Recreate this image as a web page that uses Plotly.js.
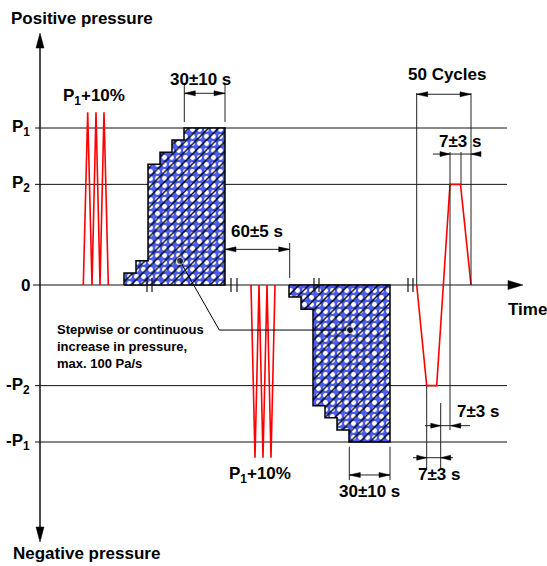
<!DOCTYPE html>
<html><head><meta charset="utf-8">
<script src="https://cdn.plot.ly/plotly-3.0.1.min.js"></script>
<style>html,body{margin:0;padding:0;background:#fff}#chart{width:547px;height:566px}</style>
</head><body><div id="chart"></div>
<script>
// ---- pressure levels (P1 = 1) ----
const levelNames = ['P<sub>1</sub>', 'P<sub>2</sub>', '0', '-P<sub>2</sub>', '-P<sub>1</sub>'];
const levelValues = [1, 0.641, 0, -0.641, -1];

// ---- test pulses P1+10% (time units, pressure) ----
const pulseUpT = [43.3, 47.7, 52, 56, 60, 64, 68.3];
const pulseUpP = [0, 1.1, 0, 1.1, 0, 1.1, 0];
const pulseDownT = [211, 215, 219, 223, 227, 231, 235];
const pulseDownP = [0, -1.1, 0, -1.1, 0, -1.1, 0];

// ---- stepwise increase ----
const stepUpT = [84, 96, 108, 120, 132, 144];
const stepUpP = [0.077, 0.154, 0.769, 0.846, 0.923, 1.0];
const holdUpEnd = 185;
const stepDownT = [249, 261, 273, 285, 297, 309];
const stepDownP = [-0.077, -0.154, -0.769, -0.846, -0.923, -1.0];
const holdDownEnd = 350;

// ---- one of the 50 cycles ----
const cycleT = [376.7, 386.7, 396.7, 410, 420.5, 431];
const cycleP = [0, -0.641, -0.641, 0.641, 0.641, 0];

// ---- axis break marks ----
const breakT = [107, 112, 191, 197, 274, 279, 368, 373];

// ---- dimensions ----
const dimLabels = ['30±10 s', '60±5 s', '50 Cycles', '7±3 s', '7±3 s', '7±3 s', '30±10 s'];
const dimLabelT = [160, 217, 407, 420, 438, 399, 329];
const dimLabelP = [1.306, 0.338, 1.338, 0.917, -0.807, -1.204, -1.318];
const dimA = [144.3, 185, 376.7, 410, 400.7, 386.7, 309.3];
const dimB = [185, 249.7, 431, 431, 410.7, 400.7, 350];
const dimLineA = [144.3, 185, 376.7, 393, 385, 373, 309.3];
const dimLineB = [185, 249.7, 431, 441, 430, 413, 350];
const dimP = [1.221, 0.227, 1.215, 0.834, -0.896, -1.1, -1.21];
const dimOutside = [false, false, false, true, true, true, false];

// ---- extension lines ----
const extT = [144.3, 185, 249.7, 376.7, 431, 410, 421, 400.7, 386.7, 309.3, 350];
const extP0 = [1.038, 1.038, 0.268, 0, 0, 0.847, 0.847, -0.752, -0.641, -1.03, -1.03];
const extP1 = [1.287, 1.287, 0.045, 1.223, 1.223, -0.924, 0.641, -1.178, -1.178, -1.242, -1.242];

// ---- leader ----
const leaderT = [140, 179.3, 310];
const leaderP = [0.153, -0.287, -0.287];
const noteText = 'Stepwise or continuous<br>increase in pressure,<br>max. 100 Pa/s';

// ---- axes ----
const xRange = [-40, 507];
const yRange = [-1.7898, 1.8153];
const W = 547, H = 566;
const tpp = (xRange[1] - xRange[0]) / W;   // time units per px
const ppp = (yRange[1] - yRange[0]) / H;   // pressure units per px

function head(tipT, tipP, dir, len, half) {
  const L = len, h = half;
  if (dir === 'r') return [[tipT - L * tpp, tipP - h * ppp], [tipT, tipP], [tipT - L * tpp, tipP + h * ppp]];
  if (dir === 'l') return [[tipT + L * tpp, tipP - h * ppp], [tipT, tipP], [tipT + L * tpp, tipP + h * ppp]];
  if (dir === 'u') return [[tipT - h * tpp, tipP - L * ppp], [tipT, tipP], [tipT + h * tpp, tipP - L * ppp]];
  return [[tipT - h * tpp, tipP + L * ppp], [tipT, tipP], [tipT + h * tpp, tipP + L * ppp]];
}

function stair(T, P, endT) {
  const t = [T[0]], p = [0];
  for (let i = 0; i < T.length; i++) {
    t.push(T[i]); p.push(P[i]);
    if (i < T.length - 1) { t.push(T[i + 1]); p.push(P[i]); }
  }
  t.push(endT); p.push(P[P.length - 1]);
  t.push(endT); p.push(0);
  t.push(T[0]); p.push(0);
  return { t, p };
}

const traces = [];
const INK = '#111';

// level lines
{
  const t = [], p = [];
  levelValues.forEach(v => { if (v !== 0) { t.push(-5, 467, null); p.push(v, v, null); } });
  traces.push({ x: t, y: p, mode: 'lines', line: { color: INK, width: 1 }, hoverinfo: 'skip' });
}
// zero (time) axis and pressure axis
const yTop = 1.605, yBot = -1.637, xTip = 483;
traces.push({ x: [-7, xTip - 14 * tpp], y: [0, 0], mode: 'lines', line: { color: INK, width: 1.2 }, hoverinfo: 'skip' });
traces.push({ x: [0, 0], y: [yTop - 12 * ppp, yBot + 12 * ppp], mode: 'lines', line: { color: INK, width: 1.5 }, hoverinfo: 'skip' });

// blocks
[[stepUpT, stepUpP, holdUpEnd], [stepDownT, stepDownP, holdDownEnd]].forEach(([T, P, e]) => {
  const s = stair(T, P, e);
  traces.push({ x: s.t, y: s.p, mode: 'lines', fill: 'toself', fillcolor: '#4a5cf0',
    fillpattern: { shape: '.', bgcolor: '#4a5cf0', fgcolor: '#ffffff', size: 7, solidity: 0.38 },
    line: { width: 0 }, hoverinfo: 'skip' });
  traces.push({ x: s.t, y: s.p, mode: 'lines', fill: 'toself', fillcolor: 'rgba(0,0,0,0)',
    fillpattern: { shape: '/', bgcolor: 'rgba(0,0,0,0)', fgcolor: '#000000', size: 7, solidity: 0.2 },
    line: { color: '#000', width: 1.5 }, hoverinfo: 'skip' });
});

// break marks
{
  const t = [], p = [];
  breakT.forEach(b => { t.push(b, b, null); p.push(0.045, -0.045, null); });
  traces.push({ x: t, y: p, mode: 'lines', line: { color: INK, width: 1.2 }, hoverinfo: 'skip' });
}

// red pressure traces
[[pulseUpT, pulseUpP], [pulseDownT, pulseDownP], [cycleT, cycleP]].forEach(([T, P]) => {
  traces.push({ x: T, y: P, mode: 'lines', line: { color: '#ff0000', width: 1.6 }, hoverinfo: 'skip' });
});

// extension lines
{
  const t = [], p = [];
  extT.forEach((x, i) => { t.push(x, x, null); p.push(extP0[i], extP1[i], null); });
  traces.push({ x: t, y: p, mode: 'lines', line: { color: '#222', width: 1 }, hoverinfo: 'skip' });
}

// dimension lines + arrowheads
const heads = [];
{
  const t = [], p = [];
  dimP.forEach((y, i) => {
    t.push(dimLineA[i], dimLineB[i], null); p.push(y, y, null);
    if (dimOutside[i]) {
      heads.push(head(dimA[i], y, 'r', 10, 2.5));
      heads.push(head(dimB[i], y, 'l', 10, 2.5));
    } else {
      heads.push(head(dimA[i], y, 'l', 11, 2.5));
      heads.push(head(dimB[i], y, 'r', 11, 2.5));
    }
  });
  traces.push({ x: t, y: p, mode: 'lines', line: { color: '#222', width: 1 }, hoverinfo: 'skip' });
}
// axis arrowheads
heads.push(head(0, yTop, 'u', 15, 4));
heads.push(head(0, yBot, 'd', 15, 4));
heads.push(head(xTip, 0, 'r', 15, 4.5));
{
  const t = [], p = [];
  heads.forEach(h => { h.forEach(pt => { t.push(pt[0]); p.push(pt[1]); }); t.push(h[0][0], null); p.push(h[0][1], null); });
  traces.push({ x: t, y: p, mode: 'lines', fill: 'toself', fillcolor: '#000', line: { color: '#000', width: 0.5 }, hoverinfo: 'skip' });
}

// leader
traces.push({ x: leaderT, y: leaderP, mode: 'lines+markers', line: { color: '#000', width: 1 },
  marker: { size: [7, 0, 7], color: '#000' }, hoverinfo: 'skip' });

const FONT = 'Liberation Sans, Arial, Helvetica, sans-serif';
const ann = [];
const txt = (text, x, y, size, xanchor, extra) => ann.push(Object.assign({ text, x, y, xref: 'x', yref: 'y',
  showarrow: false, xanchor: xanchor || 'center', yanchor: 'middle',
  font: { family: FONT, size, color: '#000', weight: 700 } }, extra || {}));

levelNames.forEach((n, i) => txt(n, -8, levelValues[i], 17, 'right'));
txt('Positive pressure', -31, 1.70, 17, 'left');
txt('Negative pressure', -29, -1.707, 17, 'left');
txt('Time', 487, -0.159, 17);
txt('P<sub>1</sub>+10%', 53.5, 1.197, 17);
txt('P<sub>1</sub>+10%', 220, -1.21, 17);
dimLabels.forEach((d, i) => txt(d, dimLabelT[i], dimLabelP[i], 17));
txt(noteText, 15, -0.393, 13, 'left', { align: 'left' });

const layout = {
  width: W, height: H, margin: { l: 0, r: 0, t: 0, b: 0 },
  paper_bgcolor: '#fff', plot_bgcolor: '#fff', showlegend: false,
  xaxis: { range: xRange, visible: false, fixedrange: true },
  yaxis: { range: yRange, visible: false, fixedrange: true },
  annotations: ann
};
Plotly.newPlot('chart', traces, layout, { staticPlot: true });
</script></body></html>
